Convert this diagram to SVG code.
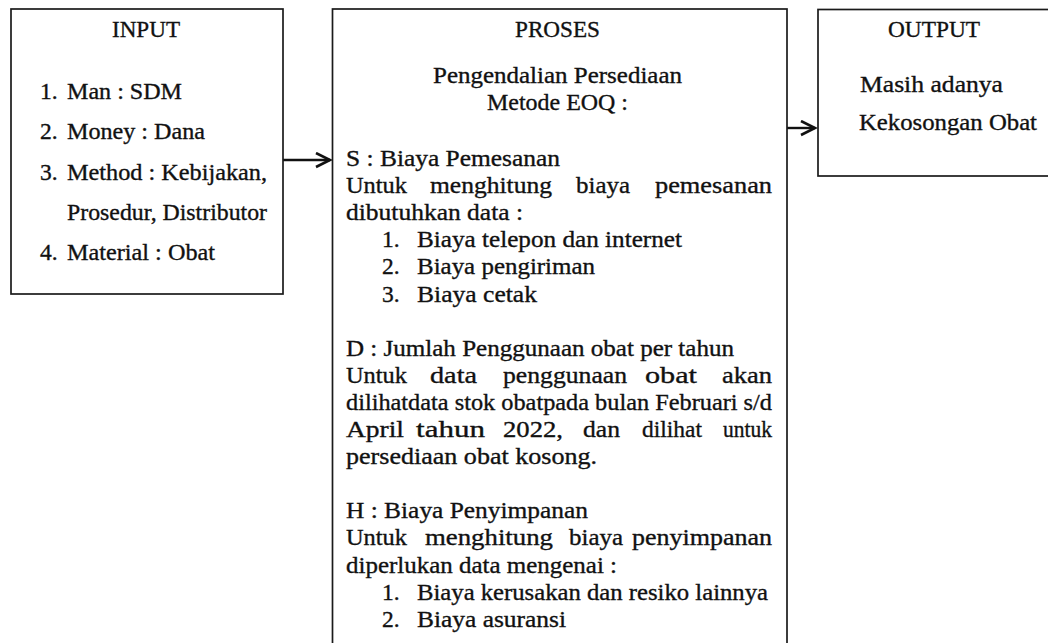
<svg xmlns="http://www.w3.org/2000/svg" width="1048" height="643" viewBox="0 0 1048 643">
<style>
.box{fill:#fff;stroke:#1a1a1a;stroke-width:1.7}
.t{font-family:"Liberation Serif","Times New Roman",serif;font-size:23.5px;fill:#111;stroke:#111;stroke-width:0.35}
.conn{stroke:#111;stroke-width:2.4;fill:none}
</style>
<defs>
<marker id="arr" markerUnits="userSpaceOnUse" markerWidth="18" markerHeight="18" refX="15" refY="8" orient="auto">
<path d="M1,1 L15,8 L1,15" fill="none" stroke="#111" stroke-width="2.6"/>
</marker>
</defs>
<rect width="1048" height="643" fill="#fff"/>
<g id="connectors">
<line class="conn" x1="283" y1="160" x2="330" y2="160" marker-end="url(#arr)"/>
<line class="conn" x1="787" y1="128" x2="815" y2="128" marker-end="url(#arr)"/>
</g>
<g id="input">
<rect class="box" x="11" y="9" width="272" height="285"/>
<text class="t" x="112" y="37" textLength="68" lengthAdjust="spacingAndGlyphs">INPUT</text>
<text class="t" x="40" y="99">1.</text><text class="t" x="67" y="99" textLength="115" lengthAdjust="spacingAndGlyphs">Man : SDM</text>
<text class="t" x="40" y="139">2.</text><text class="t" x="67" y="139" textLength="138" lengthAdjust="spacingAndGlyphs">Money : Dana</text>
<text class="t" x="40" y="180">3.</text><text class="t" x="67" y="180" textLength="200" lengthAdjust="spacingAndGlyphs">Method : Kebijakan,</text>
<text class="t" x="67" y="220" textLength="200" lengthAdjust="spacingAndGlyphs">Prosedur, Distributor</text>
<text class="t" x="40" y="260">4.</text><text class="t" x="67" y="260" textLength="148" lengthAdjust="spacingAndGlyphs">Material : Obat</text>
</g>
<g id="proses">
<rect class="box" x="332.5" y="9" width="454.5" height="700"/>
<text class="t" x="515" y="37" textLength="85" lengthAdjust="spacingAndGlyphs">PROSES</text>
<text class="t" x="433" y="83" textLength="249" lengthAdjust="spacingAndGlyphs">Pengendalian Persediaan</text>
<text class="t" x="487" y="110" textLength="141" lengthAdjust="spacingAndGlyphs">Metode EOQ :</text>

<text class="t" x="346" y="166" textLength="214" lengthAdjust="spacingAndGlyphs">S : Biaya Pemesanan</text>
<text class="t" x="346" y="193.1" textLength="61" lengthAdjust="spacingAndGlyphs">Untuk</text>
<text class="t" x="430" y="193.1" textLength="122" lengthAdjust="spacingAndGlyphs">menghitung</text>
<text class="t" x="576" y="193.1" textLength="54" lengthAdjust="spacingAndGlyphs">biaya</text>
<text class="t" x="655" y="193.1" textLength="117" lengthAdjust="spacingAndGlyphs">pemesanan</text>
<text class="t" x="346" y="220.2" textLength="177" lengthAdjust="spacingAndGlyphs">dibutuhkan data :</text>
<text class="t" x="382" y="247.3">1.</text><text class="t" x="417" y="247.3" textLength="265" lengthAdjust="spacingAndGlyphs">Biaya telepon dan internet</text>
<text class="t" x="382" y="274.4">2.</text><text class="t" x="417" y="274.4" textLength="178" lengthAdjust="spacingAndGlyphs">Biaya pengiriman</text>
<text class="t" x="382" y="301.5">3.</text><text class="t" x="417" y="301.5" textLength="120" lengthAdjust="spacingAndGlyphs">Biaya cetak</text>

<text class="t" x="346" y="355.7" textLength="388" lengthAdjust="spacingAndGlyphs">D : Jumlah Penggunaan obat per tahun</text>
<text class="t" x="346" y="382.8" textLength="61" lengthAdjust="spacingAndGlyphs">Untuk</text>
<text class="t" x="430" y="382.8" textLength="47" lengthAdjust="spacingAndGlyphs">data</text>
<text class="t" x="503" y="382.8" textLength="124" lengthAdjust="spacingAndGlyphs">penggunaan</text>
<text class="t" x="645" y="382.8" textLength="52" lengthAdjust="spacingAndGlyphs">obat</text>
<text class="t" x="722" y="382.8" textLength="50" lengthAdjust="spacingAndGlyphs">akan</text>
<text class="t" x="346" y="409.9" textLength="426" lengthAdjust="spacingAndGlyphs">dilihatdata stok obatpada bulan Februari s/d</text>
<text class="t" x="346" y="437" textLength="58" lengthAdjust="spacingAndGlyphs">April</text>
<text class="t" x="416" y="437" textLength="69" lengthAdjust="spacingAndGlyphs">tahun</text>
<text class="t" x="503" y="437" textLength="60" lengthAdjust="spacingAndGlyphs">2022,</text>
<text class="t" x="583" y="437" textLength="37" lengthAdjust="spacingAndGlyphs">dan</text>
<text class="t" x="642" y="437" textLength="60" lengthAdjust="spacingAndGlyphs">dilihat</text>
<text class="t" x="723" y="437" textLength="49" lengthAdjust="spacingAndGlyphs">untuk</text>
<text class="t" x="346" y="464.1" textLength="251" lengthAdjust="spacingAndGlyphs">persediaan obat kosong.</text>

<text class="t" x="346" y="518.3" textLength="242" lengthAdjust="spacingAndGlyphs">H : Biaya Penyimpanan</text>
<text class="t" x="346" y="545.4" textLength="61" lengthAdjust="spacingAndGlyphs">Untuk</text>
<text class="t" x="425" y="545.4" textLength="128" lengthAdjust="spacingAndGlyphs">menghitung</text>
<text class="t" x="569" y="545.4" textLength="54" lengthAdjust="spacingAndGlyphs">biaya</text>
<text class="t" x="632" y="545.4" textLength="140" lengthAdjust="spacingAndGlyphs">penyimpanan</text>
<text class="t" x="346" y="572.5" textLength="271" lengthAdjust="spacingAndGlyphs">diperlukan data mengenai :</text>
<text class="t" x="382" y="599.6">1.</text><text class="t" x="417" y="599.6" textLength="351" lengthAdjust="spacingAndGlyphs">Biaya kerusakan dan resiko lainnya</text>
<text class="t" x="382" y="626.7">2.</text><text class="t" x="417" y="626.7" textLength="149" lengthAdjust="spacingAndGlyphs">Biaya asuransi</text>
</g>
<g id="output">
<rect class="box" x="818" y="9.5" width="260" height="166.5"/>
<text class="t" x="888" y="37" textLength="92" lengthAdjust="spacingAndGlyphs">OUTPUT</text>
<text class="t" x="860" y="92" textLength="143" lengthAdjust="spacingAndGlyphs">Masih adanya</text>
<text class="t" x="859" y="130" textLength="178" lengthAdjust="spacingAndGlyphs">Kekosongan Obat</text>
</g>
</svg>
